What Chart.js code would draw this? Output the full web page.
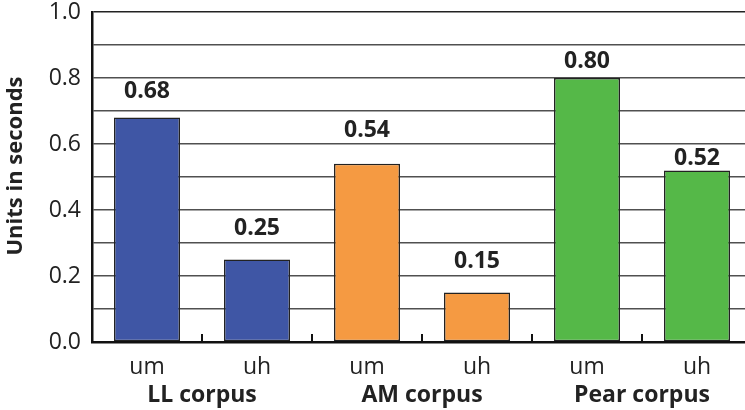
<!DOCTYPE html>
<html>
<head>
<meta charset="utf-8">
<script src="https://cdn.jsdelivr.net/npm/chart.js@4/dist/chart.umd.min.js"></script>
<style>
  html, body { margin: 0; padding: 0; background: #fff; overflow: hidden; }
  #wrap { position: relative; width: 752px; height: 410px; }
</style>
</head>
<body>
<div id="wrap"><canvas id="c"></canvas></div>
<script>
// Filler durations per corpus
const categories = ['um', 'uh', 'um', 'uh', 'um', 'uh'];
const groups = ['LL corpus', 'AM corpus', 'Pear corpus'];
const values = [0.68, 0.25, 0.54, 0.15, 0.80, 0.52];
const barColors = ['#3f56a5', '#3f56a5', '#f59a42', '#f59a42', '#55b848', '#55b848'];
const yTicks = [0, 0.2, 0.4, 0.6, 0.8, 1.0];

const FONT = "'Open Sans', 'Noto Sans', sans-serif";
// distance (px) from each bar top to the centre of its value label
const labelGap = [26, 31, 33, 31, 17, 12];

// Value labels, group names, boundary ticks and the axis title
const decor = {
  id: 'decor',
  afterDatasetsDraw(chart) {
    const ctx = chart.ctx;
    const meta = chart.getDatasetMeta(0);
    const x = chart.scales.x;
    const area = chart.chartArea;
    ctx.save();
    ctx.fillStyle = '#222';
    ctx.textAlign = 'center';
    ctx.textBaseline = 'middle';
    ctx.font = "bold 23px " + FONT;
    meta.data.forEach((bar, i) => {
      ctx.fillText(values[i].toFixed(2), bar.x, bar.y - labelGap[i]);
    });
    // boundary ticks between categories
    const step = x.getPixelForTick(1) - x.getPixelForTick(0);
    ctx.strokeStyle = '#111';
    ctx.lineWidth = 2;
    for (let i = 0; i < categories.length; i++) {
      const bx = Math.round(x.getPixelForTick(i) + step / 2);
      ctx.beginPath();
      ctx.moveTo(bx, area.bottom);
      ctx.lineTo(bx, area.bottom - 8);
      ctx.stroke();
    }
    // group labels
    ctx.font = "bold 23px " + FONT;
    groups.forEach((g, gi) => {
      const cx = (x.getPixelForTick(gi * 2) + x.getPixelForTick(gi * 2 + 1)) / 2;
      ctx.fillText(g, cx, 395);
    });
    // y axis title
    ctx.translate(16, 166);
    ctx.rotate(-Math.PI / 2);
    ctx.font = "bold 22px " + FONT;
    ctx.fillText('Units in seconds', 0, 0);
    ctx.restore();
  }
};

new Chart(document.getElementById('c'), {
  type: 'bar',
  data: {
    labels: categories,
    datasets: [{
      data: values,
      backgroundColor: barColors,
      borderColor: '#222',
      borderWidth: 1.5,
      borderSkipped: false,
      barPercentage: 0.6,
      categoryPercentage: 1.0
    }]
  },
  options: {
    responsive: true,
    maintainAspectRatio: false,
    animation: false,
    devicePixelRatio: 1,
    layout: { padding: { top: 12, right: 0, left: 0, bottom: 0 } },
    plugins: { legend: { display: false }, tooltip: { enabled: false } },
    scales: {
      x: {
        grid: { display: false, drawTicks: false },
        border: { color: '#111', width: 2.5 },
        ticks: { color: '#222', font: { family: FONT, size: 23 }, padding: 12 },
        afterFit(s) { s.height = 68; s.paddingLeft = 0; s.paddingRight = 0; }
      },
      y: {
        min: 0, max: 1.0,
        grid: {
          color: (c) => c.tick && c.tick.value >= 0.999 ? '#222' : '#505050',
          lineWidth: 1.5,
          drawTicks: false
        },
        border: { color: '#111', width: 2.5 },
        ticks: {
          stepSize: 0.1,
          padding: 11,
          color: '#222',
          font: { family: FONT, size: 23 },
          callback: (v) => {
            const r = Math.round(v * 10) / 10;
            return yTicks.some(t => Math.abs(t - r) < 1e-6) ? r.toFixed(1) : '';
          }
        },
        afterFit(s) { s.width = 92; s.paddingTop = 0; s.paddingBottom = 0; }
      }
    }
  },
  plugins: [decor]
});
</script>
</body>
</html>
